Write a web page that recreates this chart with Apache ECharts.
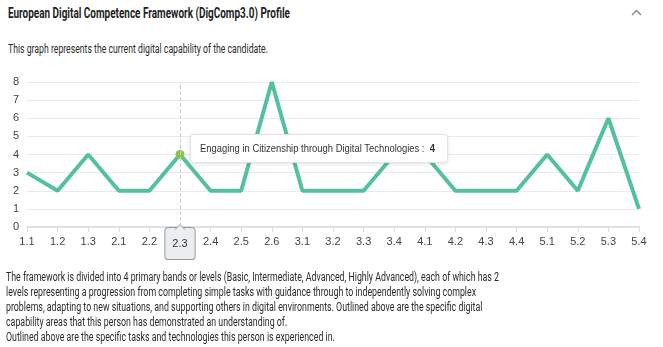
<!DOCTYPE html>
<html>
<head>
<meta charset="utf-8">
<script src="https://cdn.jsdelivr.net/npm/echarts@6/dist/echarts.min.js"></script>
<style>
  html, body { margin:0; padding:0; width:663px; height:347px; background:#fff; overflow:hidden; font-family: Roboto, "Noto Sans", sans-serif; color:#333; }
  .ln { position:absolute; white-space:nowrap; line-height:15px; transform-origin:left center; }
  #title { left:8px; top:5px; font-size:14px; font-weight:bold; color:#1e1e1e; line-height:16px; }
  #caret { position:absolute; left:631px; top:9px; }
  #sub { left:8px; top:42px; font-size:12px; color:#2a2a2a; }
  #chart { position:absolute; left:0; top:60px; width:663px; height:200px; }
  .p { left:6px; font-size:12px; color:#2a2a2a; }
</style>
</head>
<body>
<div id="title" class="ln">European Digital Competence Framework (DigComp3.0) Profile</div>
<svg id="caret" width="11" height="9"><polyline points="1,6 5.5,1.5 10,6" fill="none" stroke="#888" stroke-width="1.4"/></svg>
<div id="sub" class="ln">This graph represents the current digital capability of the candidate.</div>
<div id="chart"></div>
<div id="p1" class="ln p" style="top:269.5px">The framework is divided into 4 primary bands or levels (Basic, Intermediate, Advanced, Highly Advanced), each of which has 2</div>
<div class="ln p" style="top:284.5px">levels representing a progression from completing simple tasks with guidance through to independently solving complex</div>
<div class="ln p" style="top:299.5px">problems, adapting to new situations, and supporting others in digital environments. Outlined above are the specific digital</div>
<div class="ln p" style="top:314.5px">capability areas that this person has demonstrated an understanding of.</div>
<div class="ln p" style="top:329.5px">Outlined above are the specific tasks and technologies this person is experienced in.</div>
<script>
const categories = ['1.1','1.2','1.3','2.1','2.2','2.3','2.4','2.5','2.6','3.1','3.2','3.3','3.4','4.1','4.2','4.3','4.4','5.1','5.2','5.3','5.4'];
const areaNames = [
  'Browsing, Searching and Filtering Data, Information and Digital Content',
  'Evaluating Data, Information and Digital Content',
  'Managing Data, Information and Digital Content',
  'Interacting through Digital Technologies',
  'Sharing through Digital Technologies',
  'Engaging in Citizenship through Digital Technologies',
  'Collaborating through Digital Technologies',
  'Netiquette',
  'Managing Digital Identity',
  'Developing Digital Content',
  'Integrating and Re-elaborating Digital Content',
  'Copyright and Licences',
  'Programming',
  'Protecting Devices',
  'Protecting Personal Data and Privacy',
  'Protecting Health and Well-being',
  'Protecting the Environment',
  'Solving Technical Problems',
  'Identifying Needs and Technological Responses',
  'Creatively Using Digital Technologies',
  'Identifying Digital Competence Gaps'
];
const values = [3,2,4,2,2,4,2,2,8,2,2,2,4,4,2,2,2,4,2,6,1];
const yTicks = [0,1,2,3,4,5,6,7,8];
const highlightIndex = 5;

// horizontal fit of the page texts to the widths measured on the reference
function fitX(el, target) {
  const w = el.getBoundingClientRect().width;
  el.style.transform = 'scaleX(' + (target / w) + ')';
}
fitX(document.getElementById('title'), 282);
fitX(document.getElementById('sub'), 260);
const pScale = 493 / document.getElementById('p1').getBoundingClientRect().width;
document.querySelectorAll('.p').forEach(el => { el.style.transform = 'scaleX(' + pScale + ')'; });

const mctx = document.createElement('canvas').getContext('2d');
mctx.font = '10px "Liberation Sans", Arial, sans-serif';

const chart = echarts.init(document.getElementById('chart'), null, {renderer:'canvas'});
chart.setOption({
  animation: false,
  grid: { left: 27, right: 24, top: 22, bottom: 33 },
  tooltip: {
    trigger: 'axis',
    alwaysShowContent: true,
    backgroundColor: '#fff',
    borderColor: '#e3e3e3',
    borderWidth: 1,
    padding: [7, 9],
    extraCssText: 'box-shadow:0 1px 4px rgba(0,0,0,0.12);border-radius:4px;',
    textStyle: { fontSize: 10, color: '#333', fontFamily: 'Liberation Sans, Arial, sans-serif' },
    position: function (point) {
      return [point[0] + 10, point[1] - 21];
    },
    axisPointer: {
      type: 'line',
      lineStyle: { color: '#ccc', type: 'dashed', width: 1 },
      label: { show: true, backgroundColor: '#eaeef1', borderColor: '#9a9a9a', borderWidth: 1, color: '#333', fontSize: 11, padding: [10, 7, 10, 7], margin: 1, fontFamily: 'Liberation Sans, Arial, sans-serif' }
    },
    formatter: function (params) {
      const p = params[0];
      const txt = areaNames[p.dataIndex] + ' :  ' + p.value;
      const nat = mctx.measureText(txt).width + 3;
      const s = 238 / nat;
      return '<div style="width:238px;white-space:nowrap;line-height:13px;overflow:visible"><span style="display:inline-block;transform:scaleX(' + s.toFixed(3) + ');transform-origin:left center">' +
        areaNames[p.dataIndex] + ' :&nbsp; <b>' + p.value + '</b></span></div>';
    }
  },
  xAxis: {
    type: 'category',
    data: categories,
    boundaryGap: false,
    axisLine: { lineStyle: { color: '#e0e0e0', width: 2 } },
    axisTick: { show: true, lineStyle: { color: '#ddd' }, length: 5 },
    axisLabel: { color: '#444', fontSize: 11, margin: 9, fontFamily: 'Liberation Sans, Arial, sans-serif' }
  },
  yAxis: {
    type: 'value',
    min: 0, max: 8, interval: 1,
    axisLine: { show: false },
    axisTick: { show: false },
    splitLine: { lineStyle: { color: '#eaeaea', width: 1 } },
    axisLabel: { color: '#444', fontSize: 11, margin: 8, fontFamily: 'Liberation Sans, Arial, sans-serif',
      formatter: function (v) { return yTicks.indexOf(v) >= 0 ? String(v) : ''; } }
  },
  series: [{
    type: 'line',
    data: values,
    showSymbol: false,
    symbol: 'circle',
    symbolSize: 9,
    lineStyle: { color: '#4caf93', width: 4 },
    itemStyle: { color: '#8bc34a', borderWidth: 0 },
    emphasis: { scale: 1, itemStyle: { color: '#8bc34a', borderWidth: 0 }, lineStyle: { width: 4 } }
  }]
});
const px = chart.convertToPixel({ xAxisIndex: 0 }, categories[highlightIndex]);
const py = chart.convertToPixel({ yAxisIndex: 0 }, 0);
chart.setOption({
  graphic: [{
    type: 'polyline', z: 100, zlevel: 1,
    shape: { points: [[px - 5, py + 2.5], [px, py - 2.5], [px + 5, py + 2.5]] },
    style: { fill: '#eaeef1', stroke: '#9a9a9a', lineWidth: 1 }
  }]
});
chart.dispatchAction({ type: 'showTip', seriesIndex: 0, dataIndex: highlightIndex });
</script>
</body>
</html>
